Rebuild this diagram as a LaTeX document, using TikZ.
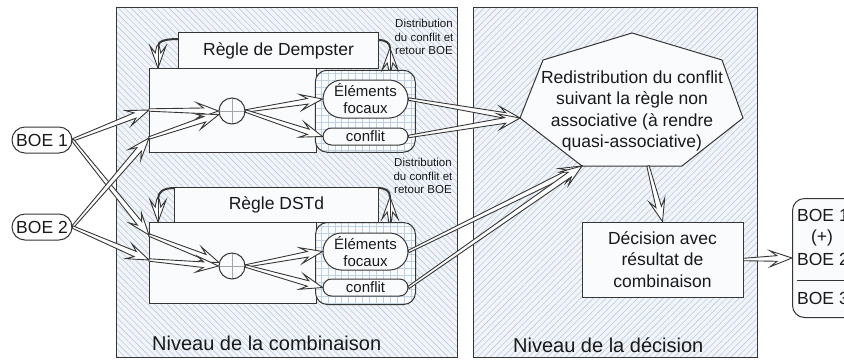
\documentclass[tikz,border=0pt]{standalone}
\usepackage{fontspec}
\setmainfont{Liberation Sans}
\usetikzlibrary{calc,patterns.meta,shapes.misc}

\definecolor{ink}{HTML}{363636}
\definecolor{panelbg}{HTML}{F1F4F8}
\definecolor{hatchln}{HTML}{BACCDF}
\definecolor{gridln}{HTML}{BFD0E3}
\definecolor{boxbg}{HTML}{FAFBFD}

\newcommand\fntmain{\fontsize{17.5bp}{21.5bp}\selectfont}
\newcommand\fntmid{\fontsize{15bp}{17bp}\selectfont}
\newcommand\fntsmall{\fontsize{11.5bp}{13.5bp}\selectfont}
\newcommand\fntlevel{\fontsize{20bp}{24bp}\selectfont}

% open wedge arrow: narrow tapering shaft and a swept-back hollow head
\newcommand\wedgearrow[2]{%
  \coordinate (wa-j) at ($(#2)!15bp!(#1)$);
  \coordinate (wa-b) at ($(#2)!22bp!(#1)$);
  \draw[wedge] ($(#1)!1.2bp!90:(#2)$) -- ($(wa-j)!2.8bp!90:(#2)$)
    -- ($(wa-b)!8bp!90:(#2)$) -- (#2) -- ($(wa-b)!8bp!-90:(#2)$)
    -- ($(wa-j)!2.8bp!-90:(#2)$) -- ($(#1)!1.2bp!-90:(#2)$) -- cycle;}

\tikzset{
  every node/.style={text=black!90, inner sep=0pt},
  wedge/.style={draw=ink, fill=white, line width=0.9bp, line join=miter},
  panel/.style={draw=ink, line width=1bp, preaction={fill=panelbg},
    pattern color=hatchln, anchor=north west},
  box/.style={draw=ink, line width=1bp, fill=boxbg},
  gridbox/.style={draw=ink, line width=1bp, rounded corners=12bp,
    anchor=north west, preaction={fill=boxbg},
    preaction={pattern={Lines[angle=0,distance=7pt,line width=0.5pt]}, pattern color=gridln},
    pattern={Lines[angle=90,distance=7pt,line width=0.5pt]}, pattern color=gridln},
  pill/.style={draw=ink, line width=1bp, fill=boxbg, shape=rounded rectangle,
    minimum width=85bp, font=\fntmid, align=center},
  sumcirc/.style={circle, draw=ink, line width=1bp, fill=boxbg, minimum size=26bp,
    path picture={\draw[gray!70, line width=0.5bp]
      (path picture bounding box.north) -- (path picture bounding box.south)
      (path picture bounding box.west) -- (path picture bounding box.east);}},
  feedback/.style={draw=ink, line width=2bp},
  boe/.style={draw=ink, line width=1bp, fill=white, shape=rounded rectangle,
    minimum width=60bp, minimum height=26bp, font=\fntmain},
}

\begin{document}
\begin{tikzpicture}[x=1bp, y=-1bp]
\useasboundingbox (0,0) rectangle (844,359);
\clip (0,0) rectangle (844,359);
\fill[white] (0,0) rectangle (844,359);

% the two hatched levels
\node[panel, pattern={Lines[angle=-45,distance=4.5pt,line width=0.6pt]},
  minimum width=341bp, minimum height=350bp] (pc) at (116,7) {};
\node[panel, pattern={Lines[angle=45,distance=4.5pt,line width=0.6pt]},
  minimum width=284bp, minimum height=350bp] (pd) at (473,7) {};
\node[font=\fntlevel, anchor=base west] (lc) at (152,350) {Niveau de la combinaison};
\node[font=\fntlevel, anchor=base west] (ld) at (513,352) {Niveau de la décision};

% sources
\node[boe] (boe1) at (42,140) {BOE 1};
\node[boe] (boe2) at (42,227) {BOE 2};

% Dempster branch
\node[box, anchor=north west, minimum width=200bp, minimum height=36bp, font=\fntmain]
  (ruleU) at (178,32) {Règle de Dempster};
\node[box, anchor=north west, minimum width=167bp, minimum height=84bp] (boxU) at (149,68) {};
\node[gridbox, minimum width=100bp, minimum height=82bp] (gridU) at (315,70) {};
\node[pill, minimum height=38bp] (efU) at (365.5,99) {Éléments\\focaux};
\node[pill, minimum height=17bp] (cfU) at (365.5,136.5) {conflit};
\node[sumcirc] (circU) at (232,111) {};
\node[font=\fntsmall, align=center] (distU) at (424,37) {Distribution\\du conflit et\\retour BOE};

% DSTd branch
\node[box, anchor=north west, minimum width=204bp, minimum height=35bp, font=\fntmain]
  (ruleL) at (174,187) {Règle DSTd};
\node[box, anchor=north west, minimum width=167bp, minimum height=81bp] (boxL) at (149,222) {};
\node[gridbox, minimum width=100bp, minimum height=82bp] (gridL) at (315,222) {};
\node[pill, minimum height=37bp] (efL) at (365.5,251.5) {Éléments\\focaux};
\node[pill, minimum height=17bp] (cfL) at (365.5,287.5) {conflit};
\node[sumcirc] (circL) at (232,266) {};
\node[font=\fntsmall, align=center] (distL) at (423,176) {Distribution\\du conflit et\\retour BOE};

% redistribution heptagon
\coordinate (h1) at (632,33);
\coordinate (h2) at (722,60);
\coordinate (h3) at (743,118);
\coordinate (h4) at (682,166);
\coordinate (h5) at (582,166);
\coordinate (h6) at (520,118);
\coordinate (h7) at (543,60);
\draw[box] (h1) -- (h2) -- (h3) -- (h4) -- (h5) -- (h6) -- (h7) -- cycle;
\node[font=\fntmain, align=center] (redis) at (632,111)
  {Redistribution du conflit\\suivant la règle non\\associative (à rendre\\quasi-associative)};
\coordinate (hb) at (648,166);

% decision and result
\node[box, minimum width=161bp, minimum height=75bp, font=\fntmain, align=center]
  (dec) at (662.5,259.5) {Décision avec\\résultat de\\combinaison};
\node[box, rounded corners=12bp, anchor=north west, minimum width=90bp,
  minimum height=119bp] (res) at (792,198) {};
\node[font=\fntmain, anchor=base west] (r1) at (797,221) {BOE 1};
\node[font=\fntmain] (rplus) at (822,238) {(+)};
\node[font=\fntmain, anchor=base west] (r2) at (797,265) {BOE 2};
\node[font=\fntmain, anchor=base west] (r3) at (797,304) {BOE 3};
\coordinate (barl) at (797,280);
\coordinate (barr) at (850,280);
\draw[ink, line width=1bp] (barl) -- (barr);

% entry points on the combination boxes
\coordinate (inU1) at (149,110);
\coordinate (inU2) at (149,138);
\coordinate (inL1) at (149,235);
\coordinate (inL2) at (149,260);

% feedback loops
\coordinate (fUl-a) at (178,39);
\coordinate (fUl-b) at (158,46);
\coordinate (fUl-c) at (158,68);
\draw[feedback] (fUl-a) .. controls (166,39) and (158,41) .. (fUl-b);
\wedgearrow{fUl-b}{fUl-c}
\draw[ink, line width=0.8bp] (fUl-b) -- (fUl-c);

\coordinate (fUr-a) at (378,40);
\coordinate (fUr-b) at (390,48);
\coordinate (fUr-c) at (390,70);
\draw[feedback] (fUr-a) .. controls (386,40) and (390,43) .. (fUr-b);
\wedgearrow{fUr-c}{fUr-b}
\draw[ink, line width=0.8bp] (fUr-b) -- (fUr-c);

\coordinate (fLl-a) at (175,188);
\coordinate (fLl-b) at (158,199);
\coordinate (fLl-c) at (158,222);
\draw[feedback] (fLl-a) .. controls (163,188) and (158,192) .. (fLl-b);
\wedgearrow{fLl-b}{fLl-c}
\draw[ink, line width=0.8bp] (fLl-b) -- (fLl-c);

\coordinate (fLr-a) at (378,188);
\coordinate (fLr-b) at (390,197);
\coordinate (fLr-c) at (390,222);
\draw[feedback] (fLr-a) .. controls (386,188) and (390,191) .. (fLr-b);
\wedgearrow{fLr-c}{fLr-b}
\draw[ink, line width=0.8bp] (fLr-b) -- (fLr-c);

% data flow
\wedgearrow{boe1.east}{inU1}
\wedgearrow{boe1.east}{inL1}
\wedgearrow{boe2.east}{inU2}
\wedgearrow{boe2.east}{inL2}
\wedgearrow{inU1}{circU.west}
\wedgearrow{inU2}{circU.195}
\wedgearrow{inL1}{circL.165}
\wedgearrow{inL2}{circL.west}
\wedgearrow{circU.east}{efU.west}
\wedgearrow{circU.east}{cfU.west}
\wedgearrow{circL.east}{efL.west}
\wedgearrow{circL.east}{cfL.west}
\wedgearrow{efU.east}{h6}
\wedgearrow{cfU.east}{h6}
\wedgearrow{efL.east}{h5}
\wedgearrow{cfL.east}{h5}
\wedgearrow{hb}{dec.north}
\wedgearrow{dec.east}{res.west}
\end{tikzpicture}
\end{document}
